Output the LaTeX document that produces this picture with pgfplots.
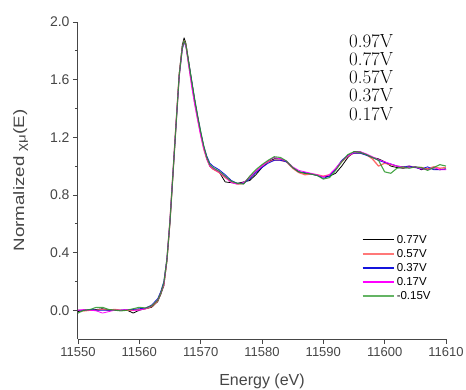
\documentclass[border=0pt]{standalone}
\usepackage{pgfplots}
\pgfplotsset{compat=1.18}
\usepackage{pgfplotstable}
\usepackage{fontspec}
\setmainfont{Liberation Sans}
\newfontfamily\lmserif{Latin Modern Roman}
\definecolor{axgray}{RGB}{70,70,70}
\definecolor{cred}{RGB}{255,90,90}
\definecolor{cblue}{RGB}{20,20,220}
\definecolor{cmag}{RGB}{255,0,255}
\definecolor{cgreen}{RGB}{40,150,40}
\definecolor{lred}{RGB}{255,120,120}
\definecolor{lgreen}{RGB}{100,180,100}

\pgfplotstableread{
E v
11550 -0.01
11551 0.00
11552 0.00
11553 0.005
11554 0.01
11555 0.00
11556 0.00
11557 0.00
11558 0.00
11559 -0.02
11560 0.00
11561 0.01
11562 0.02
11563 0.06
11563.5 0.11
11564 0.17
11564.5 0.34
11565 0.61
11565.5 0.95
11566 1.30
11566.5 1.64
11567 1.84
11567.3 1.89
11567.6 1.85
11568 1.74
11568.5 1.60
11569 1.46
11569.5 1.34
11570 1.23
11570.5 1.13
11571 1.05
11571.5 1.00
11572 0.98
11573 0.96
11574 0.89
11575 0.885
11576 0.88
11577 0.89
11578 0.90
11579 0.94
11580 0.99
11581 1.03
11582 1.05
11583 1.05
11584 1.03
11585 0.99
11586 0.96
11587 0.95
11588 0.945
11589 0.935
11590 0.925
11591 0.93
11592 0.95
11593 1.00
11594 1.06
11595 1.10
11596 1.10
11597 1.08
11598 1.06
11599 1.05
11600 1.03
11601 1.00
11602 0.99
11603 0.985
11604 0.99
11605 0.995
11606 0.975
11607 0.985
11608 0.98
11609 0.975
11610 0.98
}\tblack

\pgfplotstableread{
E v
11550 0.00
11551 -0.005
11552 0.00
11553 0.00
11554 0.005
11555 0.00
11556 0.005
11557 0.00
11558 0.00
11559 0.00
11560 0.005
11561 0.01
11562 0.025
11563 0.065
11563.5 0.12
11564 0.18
11564.5 0.35
11565 0.62
11565.5 0.96
11566 1.30
11566.5 1.63
11567 1.82
11567.3 1.87
11567.6 1.84
11568 1.72
11568.5 1.58
11569 1.45
11569.5 1.33
11570 1.22
11570.5 1.12
11571 1.05
11571.5 1.00
11572 0.98
11573 0.955
11574 0.92
11575 0.89
11576 0.875
11577 0.88
11578 0.92
11579 0.96
11580 1.00
11581 1.03
11582 1.04
11583 1.04
11584 1.03
11585 0.985
11586 0.955
11587 0.94
11588 0.945
11589 0.94
11590 0.93
11591 0.94
11592 0.98
11593 1.03
11594 1.07
11595 1.09
11596 1.09
11597 1.08
11598 1.05
11599 1.00
11600 1.02
11601 1.01
11602 1.00
11603 0.99
11604 1.00
11605 0.99
11606 0.99
11607 0.98
11608 0.995
11609 0.985
11610 0.99
}\tred

\pgfplotstableread{
E v
11550 0.00
11551 0.00
11552 0.005
11553 0.00
11554 0.00
11555 0.00
11556 0.00
11557 0.00
11558 0.005
11559 0.005
11560 0.01
11561 0.015
11562 0.035
11563 0.08
11563.5 0.13
11564 0.20
11564.5 0.36
11565 0.62
11565.5 0.96
11566 1.29
11566.5 1.62
11567 1.81
11567.3 1.86
11567.6 1.83
11568 1.73
11568.5 1.60
11569 1.47
11569.5 1.35
11570 1.24
11570.5 1.14
11571 1.07
11571.5 1.02
11572 1.00
11573 0.975
11574 0.94
11575 0.90
11576 0.88
11577 0.88
11578 0.91
11579 0.955
11580 0.99
11581 1.02
11582 1.04
11583 1.04
11584 1.03
11585 0.99
11586 0.96
11587 0.955
11588 0.945
11589 0.935
11590 0.915
11591 0.93
11592 0.98
11593 1.04
11594 1.075
11595 1.09
11596 1.09
11597 1.075
11598 1.06
11599 1.04
11600 1.025
11601 1.015
11602 1.00
11603 0.995
11604 1.00
11605 0.99
11606 0.98
11607 0.995
11608 0.975
11609 0.975
11610 0.98
}\tblue

\pgfplotstableread{
E v
11550 0.00
11551 0.005
11552 0.00
11553 -0.005
11554 -0.02
11555 -0.01
11556 0.00
11557 0.00
11558 0.005
11559 0.00
11560 0.00
11561 0.01
11562 0.03
11563 0.07
11563.5 0.12
11564 0.18
11564.5 0.35
11565 0.63
11565.5 0.97
11566 1.31
11566.5 1.63
11567 1.82
11567.3 1.865
11567.6 1.83
11568 1.71
11568.5 1.56
11569 1.43
11569.5 1.32
11570 1.21
11570.5 1.12
11571 1.05
11571.5 1.00
11572 0.985
11573 0.96
11574 0.925
11575 0.885
11576 0.875
11577 0.885
11578 0.925
11579 0.965
11580 1.00
11581 1.035
11582 1.06
11583 1.05
11584 1.035
11585 0.995
11586 0.97
11587 0.96
11588 0.95
11589 0.94
11590 0.925
11591 0.94
11592 0.985
11593 1.035
11594 1.07
11595 1.095
11596 1.10
11597 1.085
11598 1.065
11599 1.045
11600 1.03
11601 1.015
11602 1.00
11603 0.995
11604 0.99
11605 0.995
11606 0.98
11607 0.975
11608 0.99
11609 0.975
11610 0.975
}\tmag

\pgfplotstableread{
E v
11550 -0.02
11551 0.00
11552 0.005
11553 0.02
11554 0.02
11555 0.005
11556 0.00
11557 -0.005
11558 0.00
11559 0.01
11560 0.02
11561 0.015
11562 0.03
11563 0.07
11563.5 0.12
11564 0.19
11564.5 0.35
11565 0.62
11565.5 0.96
11566 1.30
11566.5 1.63
11567 1.82
11567.3 1.87
11567.6 1.84
11568 1.73
11568.5 1.60
11569 1.47
11569.5 1.35
11570 1.24
11570.5 1.14
11571 1.06
11571.5 1.01
11572 0.99
11573 0.965
11574 0.93
11575 0.895
11576 0.88
11577 0.875
11578 0.93
11579 0.975
11580 1.01
11581 1.04
11582 1.065
11583 1.06
11584 1.035
11585 0.99
11586 0.96
11587 0.95
11588 0.945
11589 0.935
11590 0.91
11591 0.92
11592 0.97
11593 1.03
11594 1.08
11595 1.10
11596 1.095
11597 1.08
11598 1.06
11599 1.04
11600 0.96
11601 0.95
11602 0.985
11603 0.995
11604 0.985
11605 0.995
11606 0.99
11607 0.97
11608 0.99
11609 1.01
11610 1.00
}\tgreen

\begin{document}
\begin{tikzpicture}
\useasboundingbox (-78pt,-50pt) rectangle (388pt,339pt);
\begin{axis}[
  at={(0pt,0pt)}, anchor=south west,
  scale only axis,
  width=368pt, height=317pt,
  xmin=11550, xmax=11610,
  ymin=-0.2, ymax=2.0,
  axis x line*=bottom,
  axis y line*=left,
  axis line style={axgray, line width=1pt},
  xtick={11550,11560,...,11610},
  minor x tick num=4,
  ytick={0,0.4,...,2.0},
  minor y tick num=1,
  tick align=outside,
  major tick length=5pt,
  minor tick length=3pt,
  tick style={axgray, line width=0.8pt},
  scaled x ticks=false,
  xticklabel style={font=\fontsize{13}{13}\selectfont, text=axgray},
  yticklabel style={font=\fontsize{14}{14}\selectfont, text=axgray},
  /pgf/number format/assume math mode=true,
  x tick label style={/pgf/number format/fixed, /pgf/number format/precision=0, /pgf/number format/1000 sep={}},
  y tick label style={/pgf/number format/fixed, /pgf/number format/fixed zerofill, /pgf/number format/precision=1},
  xlabel={Energy (eV)},
  ylabel={\scalebox{1.25}[1]{Normalized {\fontsize{12}{12}\selectfont\raisebox{-1.5pt}{χμ}}(E)}},
  xlabel style={font=\fontsize{16}{16}\selectfont, text=axgray, yshift=-10pt},
  ylabel style={font=\fontsize{15}{15}\selectfont, text=axgray, yshift=15pt},
  legend style={draw=none, fill=none, at={(0.77,0.335)}, anchor=north west,
    font=\fontsize{11.5}{11.5}\selectfont,
    row sep=0.5pt, inner sep=0pt},
  legend cell align=left,
  legend image code/.code={\draw[#1] (0pt,0pt) -- (31pt,0pt);},
  every axis plot/.append style={line join=round},
]
\addplot[black, line width=0.8pt, forget plot] table[x=E,y=v] {\tblack};
\addplot[cred, line width=1.3pt, opacity=0.9, forget plot] table[x=E,y=v] {\tred};
\addplot[cblue, line width=0.8pt, forget plot] table[x=E,y=v] {\tblue};
\addplot[cmag, line width=0.8pt, forget plot] table[x=E,y=v] {\tmag};
\addplot[cgreen, line width=1.1pt, opacity=0.85, forget plot] table[x=E,y=v] {\tgreen};
\addlegendimage{draw=black, line width=1pt}
\addlegendentry{0.77V}
\addlegendimage{draw=lred, line width=2.2pt}
\addlegendentry{0.57V}
\addlegendimage{draw=cblue, line width=1.4pt}
\addlegendentry{0.37V}
\addlegendimage{draw=cmag, line width=1.4pt}
\addlegendentry{0.17V}
\addlegendimage{draw=lgreen, line width=2.2pt}
\addlegendentry{-0.15V}
\node[anchor=north west, align=left, inner sep=0pt,
  font=\lmserif\fontsize{19}{18.2}\selectfont]
  at (rel axis cs:0.736,0.962) {0.97V\\0.77V\\0.57V\\0.37V\\0.17V};
\end{axis}
\end{tikzpicture}
\end{document}
